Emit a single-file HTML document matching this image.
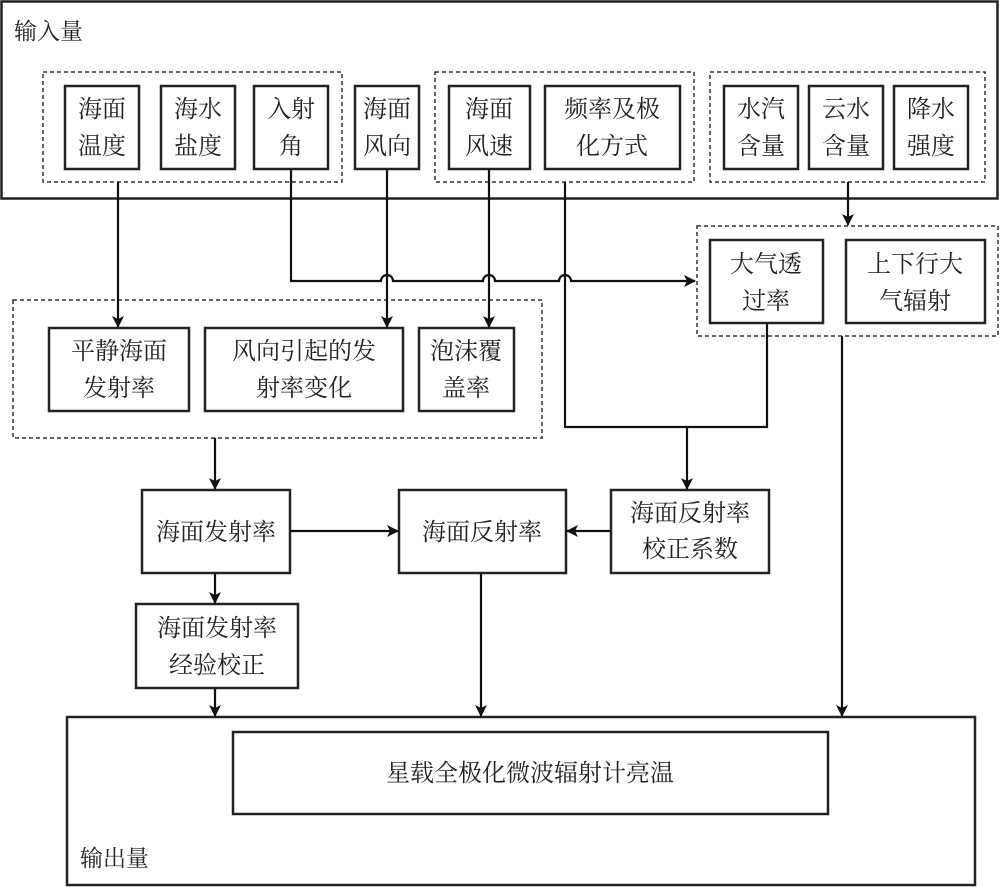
<!DOCTYPE html>
<html><head><meta charset="utf-8"><style>
html,body{margin:0;padding:0;background:#fff;}
svg{display:block;}
text{font-family:"Liberation Serif","Noto Serif CJK SC","Noto Sans CJK SC",serif;font-size:24px;fill:#222;text-anchor:middle;}
</style></head><body>
<svg width="1000" height="887" viewBox="0 0 1000 887" xmlns="http://www.w3.org/2000/svg">
<defs>
<marker id="a" markerWidth="12" markerHeight="12" refX="11" refY="6" orient="auto" markerUnits="userSpaceOnUse">
<path d="M0,0 L12,6 L0,12 L3,6 Z" fill="#111"/></marker>
</defs>
<g fill="none" stroke="#222" stroke-width="2.5">
<!-- input outer -->
<rect x="1.5" y="1.5" width="996" height="197"/>
<!-- top boxes -->
<rect x="65" y="86" width="74" height="83"/>
<rect x="161" y="86" width="74" height="83"/>
<rect x="254" y="86" width="74" height="83"/>
<rect x="355" y="86" width="64" height="83"/>
<rect x="449" y="86" width="81" height="83"/>
<rect x="545" y="86" width="135" height="83"/>
<rect x="724" y="86" width="74" height="83"/>
<rect x="809" y="86" width="74" height="83"/>
<rect x="894" y="86" width="74" height="83"/>
<!-- atm boxes -->
<rect x="710" y="240" width="113" height="83"/>
<rect x="846" y="240" width="139" height="83"/>
<!-- middle -->
<rect x="49" y="328" width="140" height="83"/>
<rect x="205" y="328" width="198" height="83"/>
<rect x="419" y="328" width="95" height="83"/>
<rect x="142" y="490" width="148" height="83"/>
<rect x="399" y="490" width="167" height="83"/>
<rect x="611" y="490" width="158" height="83"/>
<rect x="136" y="604" width="162" height="84"/>
<!-- output -->
<rect x="67" y="717" width="908" height="168"/>
<rect x="233" y="732" width="595" height="82"/>
</g>
<g fill="none" stroke="#333" stroke-width="1.5" stroke-dasharray="4,3">
<rect x="43" y="72" width="299" height="110"/>
<rect x="435" y="72" width="259" height="110"/>
<rect x="710" y="72" width="275" height="110"/>
<rect x="697" y="226" width="301" height="110"/>
<rect x="13" y="300" width="529" height="138"/>
</g>
<g fill="none" stroke="#111" stroke-width="2.2">
<line x1="118" y1="182" x2="118" y2="327" marker-end="url(#a)"/>
<path d="M291,169 V281 H381 a6,6 0 0 1 12,0 H483 a6,6 0 0 1 12,0 H559 a6,6 0 0 1 12,0 H695" marker-end="url(#a)"/>
<line x1="387" y1="169" x2="387" y2="327" marker-end="url(#a)"/>
<line x1="489" y1="169" x2="489" y2="327" marker-end="url(#a)"/>
<path d="M565,182 V427 H767 V323"/>
<line x1="687" y1="427" x2="687" y2="489" marker-end="url(#a)"/>
<line x1="848" y1="182" x2="848" y2="225" marker-end="url(#a)"/>
<line x1="842" y1="336" x2="842" y2="716" marker-end="url(#a)"/>
<line x1="215" y1="438" x2="215" y2="489" marker-end="url(#a)"/>
<line x1="290" y1="531" x2="398" y2="531" marker-end="url(#a)"/>
<line x1="611" y1="531" x2="567" y2="531" marker-end="url(#a)"/>
<line x1="215" y1="573" x2="215" y2="603" marker-end="url(#a)"/>
<line x1="215" y1="688" x2="215" y2="716" marker-end="url(#a)"/>
<line x1="481" y1="573" x2="481" y2="716" marker-end="url(#a)"/>
</g>
<text x="14" y="39" style="text-anchor:start;font-size:23px">输入量</text>
<text x="102" y="117">海面</text><text x="102" y="154">温度</text>
<text x="198" y="117">海水</text><text x="198" y="154">盐度</text>
<text x="291" y="117">入射</text><text x="291" y="154">角</text>
<text x="387" y="117">海面</text><text x="387" y="154">风向</text>
<text x="489" y="117">海面</text><text x="489" y="154">风速</text>
<text x="612" y="117">频率及极</text><text x="612" y="154">化方式</text>
<text x="761" y="117">水汽</text><text x="761" y="154">含量</text>
<text x="846" y="117">云水</text><text x="846" y="154">含量</text>
<text x="931" y="117">降水</text><text x="931" y="154">强度</text>
<text x="766" y="272">大气透</text><text x="766" y="309">过率</text>
<text x="915" y="272">上下行大</text><text x="915" y="309">气辐射</text>
<text x="119" y="359">平静海面</text><text x="119" y="396">发射率</text>
<text x="304" y="359">风向引起的发</text><text x="304" y="396">射率变化</text>
<text x="466" y="359">泡沫覆</text><text x="466" y="396">盖率</text>
<text x="216" y="540">海面发射率</text>
<text x="482" y="540">海面反射率</text>
<text x="690" y="521">海面反射率</text><text x="690" y="557">校正系数</text>
<text x="217" y="636">海面发射率</text><text x="217" y="673">经验校正</text>
<text x="530" y="781">星载全极化微波辐射计亮温</text>
<text x="80" y="866" style="text-anchor:start;font-size:23px">输出量</text>
</svg>
</body></html>
